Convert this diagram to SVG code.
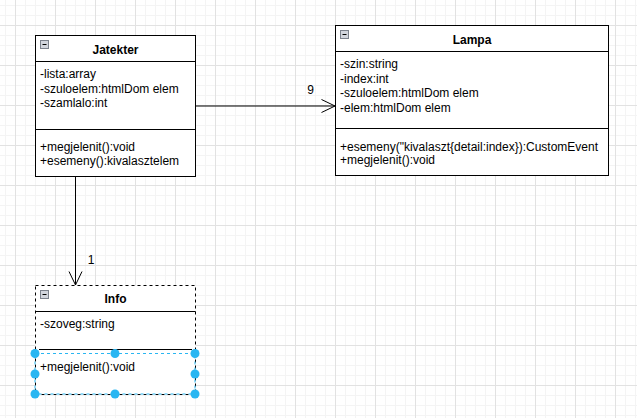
<svg xmlns="http://www.w3.org/2000/svg" width="637" height="418" viewBox="0 0 637 418">
<style>
.box{fill:#fff;stroke:#000;stroke-width:1}
.dbox{fill:#fff;stroke:#000;stroke-width:1;stroke-dasharray:3 3}
.sep{stroke:#000;stroke-width:1}
.t{font-family:"Liberation Sans",Arial,sans-serif;font-size:12px;fill:#000}
.title{font-family:"Liberation Sans",Arial,sans-serif;font-size:12px;font-weight:bold;fill:#000;text-anchor:middle}
.edge{stroke:#000;stroke-width:1;fill:none}
.icon{fill:#d2d6de;stroke:#7d838e;stroke-width:1}
.sel{fill:none;stroke:#29b6f2;stroke-width:1;stroke-dasharray:3 3}
.h{fill:#29b6f2;stroke:none}
</style>
<defs>
<pattern id="grid" width="40" height="40" patternUnits="userSpaceOnUse" x="15" y="25">
<path d="M10.5 0V40M20.5 0V40M30.5 0V40M0 10.5H40M0 20.5H40M0 30.5H40" stroke="#f4f4f4" stroke-width="1" fill="none"/>
<path d="M0.5 0V40M0 0.5H40" stroke="#e2e2e2" stroke-width="1" fill="none"/>
</pattern>
<marker id="open" markerWidth="16" markerHeight="16" refX="14" refY="7" orient="auto" markerUnits="userSpaceOnUse">
<path d="M0.5 0.5L14 7L0.5 13.5" fill="none" stroke="#000" stroke-width="1"/>
</marker>
</defs>
<rect x="0" y="0" width="637" height="418" fill="#fff"/>
<rect x="0" y="0" width="637" height="418" fill="url(#grid)"/>

<g id="connectors">
<line class="edge" x1="195" y1="106" x2="335" y2="106" marker-end="url(#open)"/>
<text class="t" x="310.5" y="94" text-anchor="middle">9</text>
<line class="edge" x1="75.5" y1="176" x2="75.5" y2="285" marker-end="url(#open)"/>
<text class="t" x="91" y="264" text-anchor="middle">1</text>
</g>

<g id="Jatekter">
<rect class="box" x="35.5" y="35.5" width="160" height="141"/>
<line class="sep" x1="35.5" y1="61.5" x2="195.5" y2="61.5"/>
<line class="sep" x1="35.5" y1="129.5" x2="195.5" y2="129.5"/>
<rect class="icon" x="40.5" y="40.5" width="8" height="8"/>
<line x1="42.5" y1="44.5" x2="46.5" y2="44.5" stroke="#000"/>
<text class="title" x="115.5" y="53.5">Jatekter</text>
<text class="t" x="40" y="78">-lista:array</text>
<text class="t" x="40" y="92.5">-szuloelem:htmlDom elem</text>
<text class="t" x="40" y="107">-szamlalo:int</text>
<text class="t" x="40" y="151">+megjelenit():void</text>
<text class="t" x="40" y="165">+esemeny():kivalasztelem</text>
</g>

<g id="Lampa">
<rect class="box" x="335.5" y="25.5" width="273" height="150"/>
<line class="sep" x1="335.5" y1="51.5" x2="608.5" y2="51.5"/>
<line class="sep" x1="335.5" y1="128.5" x2="608.5" y2="128.5"/>
<rect class="icon" x="340.5" y="30.5" width="8" height="8"/>
<line x1="342.5" y1="34.5" x2="346.5" y2="34.5" stroke="#000"/>
<text class="title" x="472" y="43.5">Lampa</text>
<text class="t" x="340" y="68">-szin:string</text>
<text class="t" x="340" y="82.5">-index:int</text>
<text class="t" x="340" y="97">-szuloelem:htmlDom elem</text>
<text class="t" x="340" y="111.5">-elem:htmlDom elem</text>
<text class="t" x="340" y="150.5">+esemeny("kivalaszt{detail:index}):CustomEvent</text>
<text class="t" x="340" y="164">+megjelenit():void</text>
</g>

<g id="Info">
<rect class="dbox" x="35.5" y="285.5" width="160" height="109"/>
<line class="sep" x1="35.5" y1="311.5" x2="195.5" y2="311.5"/>
<line class="sep" x1="39" y1="349.5" x2="192" y2="349.5"/>
<rect class="icon" x="40.5" y="290.5" width="8" height="8"/>
<line x1="42.5" y1="294.5" x2="46.5" y2="294.5" stroke="#000"/>
<text class="title" x="115.5" y="302.5">Info</text>
<text class="t" x="40" y="328">-szoveg:string</text>
<text class="t" x="40" y="371">+megjelenit():void</text>
<rect class="sel" x="35" y="353.5" width="160" height="40.5"/>
<circle class="h" cx="35" cy="353.5" r="4.5"/>
<circle class="h" cx="115" cy="353.5" r="4.5"/>
<circle class="h" cx="195" cy="353.5" r="4.5"/>
<circle class="h" cx="35" cy="374" r="4.5"/>
<circle class="h" cx="195" cy="374" r="4.5"/>
<circle class="h" cx="35" cy="394" r="4.5"/>
<circle class="h" cx="115" cy="394" r="4.5"/>
<circle class="h" cx="195" cy="394" r="4.5"/>
</g>
</svg>
